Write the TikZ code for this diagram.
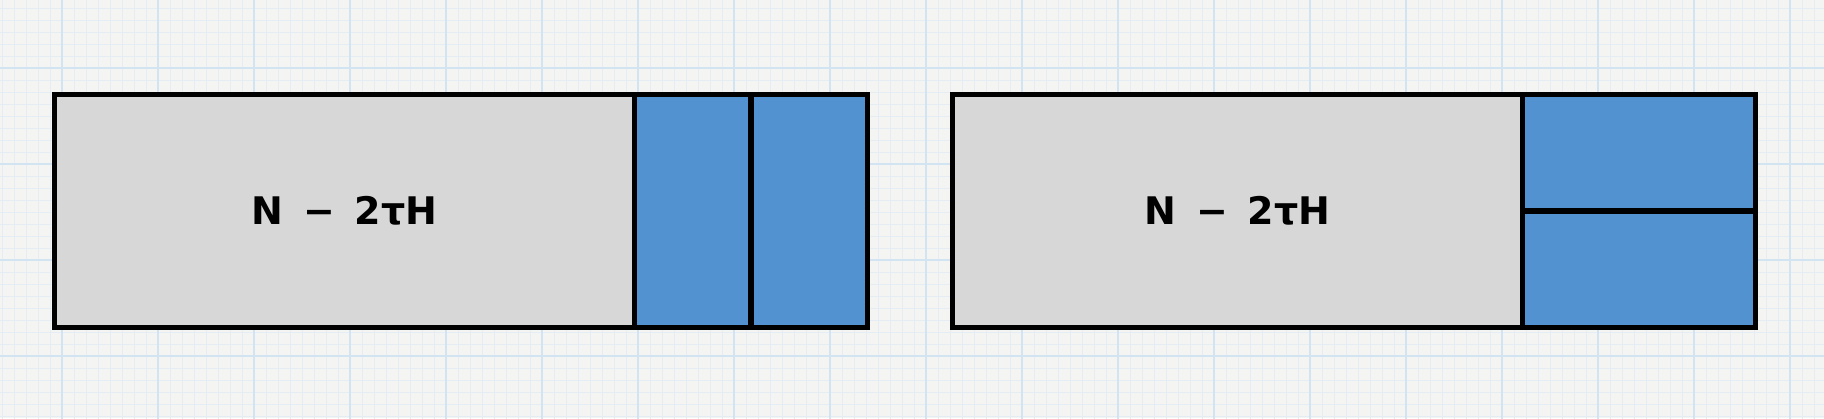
\documentclass[tikz,border=0pt]{standalone}
\usepackage{fontspec}
\setmainfont{DejaVu Sans}
\usepackage{tikz}
\usetikzlibrary{positioning}
\definecolor{paper}{HTML}{F4F4F3}
\definecolor{gridminor}{HTML}{E4EDF4}
\definecolor{gridmajor}{HTML}{D2E4F1}
\definecolor{blockgray}{HTML}{D7D7D7}
\definecolor{blockblue}{HTML}{5292D0}

\begin{document}
\begin{tikzpicture}[
  x=0.5pt, y=0.5pt,
  seqbox/.style={rectangle, draw=black, fill=blockgray, line width=2.8pt, outer sep=0pt,
    minimum height=116.5pt, font=\fontsize{19}{23}\selectfont\bfseries},
  tallblue/.style={rectangle, draw=black, fill=blockblue, line width=2.8pt, outer sep=0pt,
    minimum width=58.25pt, minimum height=116.5pt},
  flatblue/.style={rectangle, draw=black, fill=blockblue, line width=2.8pt, outer sep=0pt,
    minimum width=116.5pt, minimum height=58.25pt},
  node distance=0pt,
]
  % graph paper
  \fill[paper] (0,0) rectangle (1824,418);
  \begin{scope}
    \clip (0,0) rectangle (1824,418);
    \begin{scope}[shift={(62,62)}]
      \draw[gridminor, line width=0.45pt, step=12] (-96,-96) grid (1824,418);
      \draw[gridmajor, line width=0.9pt, step=96] (-96,-96) grid (1824,418);
    \end{scope}
  \end{scope}

  % left: two blocks side by side
  \node[seqbox, minimum width=290pt] (g1) at (344.5,207) {N\,\ −\ \,2τH};
  \node[tallblue, right=of g1] (b1a) {};
  \node[tallblue, right=of b1a] (b1b) {};

  % right: two blocks stacked
  \node[seqbox, minimum width=285pt] (g2) at (1237.5,207) {N\,\ −\ \,2τH};
  \node[flatblue, anchor=north west] (b2a) at (g2.north east) {};
  \node[flatblue, below=of b2a] (b2b) {};

  \useasboundingbox (0,0) rectangle (1824,418);
\end{tikzpicture}
\end{document}
